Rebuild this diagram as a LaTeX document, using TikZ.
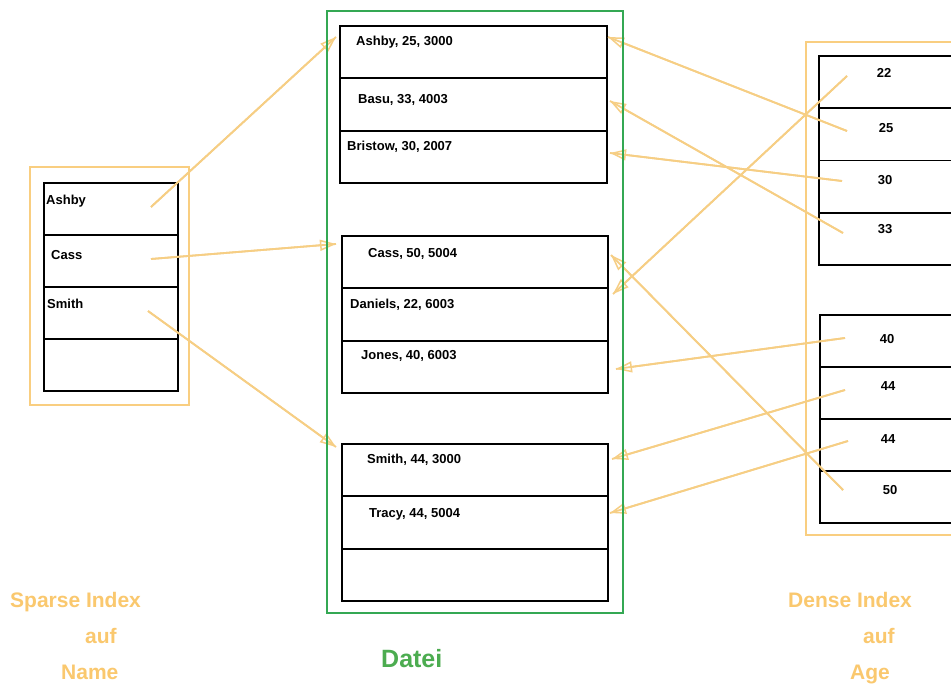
\documentclass[tikz,border=0pt]{standalone}
\usepackage{fontspec}
\setmainfont{Liberation Sans}
\usetikzlibrary{arrows.meta}
\definecolor{idxorange}{RGB}{249,206,128}
\definecolor{arrorange}{RGB}{246,206,132}
\definecolor{labelorange}{RGB}{250,200,110}
\definecolor{filegreen}{RGB}{52,168,83}
\definecolor{dateigreen}{RGB}{76,172,80}
\tikzset{
  cell/.style={draw=black, line width=1.8pt, inner sep=0pt},
  frame/.style={draw, line width=1.6pt, inner sep=0pt},
  celltext/.style={anchor=base west, inner sep=0pt, font=\fontsize{13}{15}\selectfont\bfseries},
  numtext/.style={anchor=base, inner sep=0pt, font=\fontsize{13}{15}\selectfont\bfseries},
  bigtext/.style={anchor=base west, inner sep=0pt, text=labelorange, font=\fontsize{21}{24}\selectfont\bfseries},
  ptr/.style={draw=arrorange, line width=1.8pt,
    -{Triangle[open, length=16pt, width=11pt, line width=1.5pt]},
    postaction={draw=arrorange, line width=1.8pt, -}}
}
\begin{document}
\begin{tikzpicture}[x=1pt, y=-1pt]
\useasboundingbox (0,0) rectangle (951,684);
\clip (0,0) rectangle (951,684);
\fill[white] (0,0) rectangle (951,684);

% ---------- Sparse index (left) ----------
\node[frame, draw=idxorange, minimum width=159pt, minimum height=238pt] (sparse) at (109.5,286) {};
\node[cell, minimum width=134pt, minimum height=52pt] (s1) at (111,209) {};
\node[cell, minimum width=134pt, minimum height=52pt] (s2) at (111,261) {};
\node[cell, minimum width=134pt, minimum height=52pt] (s3) at (111,313) {};
\node[cell, minimum width=134pt, minimum height=52pt] (s4) at (111,365) {};
\node[celltext] (ts1) at (46,204.5) {Ashby};
\node[celltext] (ts2) at (51,259.5) {Cass};
\node[celltext] (ts3) at (47,308.5) {Smith};

% ---------- Datei (middle) cells ----------
\node[cell, minimum width=267pt, minimum height=52.33pt] (f1) at (473.5,52.17) {};
\node[cell, minimum width=267pt, minimum height=52.33pt] (f2) at (473.5,104.5) {};
\node[cell, minimum width=267pt, minimum height=52.33pt] (f3) at (473.5,156.83) {};
\node[cell, minimum width=266pt, minimum height=52.33pt] (f4) at (475,262.17) {};
\node[cell, minimum width=266pt, minimum height=52.33pt] (f5) at (475,314.5) {};
\node[cell, minimum width=266pt, minimum height=52.33pt] (f6) at (475,366.83) {};
\node[cell, minimum width=266pt, minimum height=52.33pt] (f7) at (475,470.17) {};
\node[cell, minimum width=266pt, minimum height=52.33pt] (f8) at (475,522.5) {};
\node[cell, minimum width=266pt, minimum height=52.33pt] (f9) at (475,574.83) {};
\node[celltext] (tf1) at (356,45.5) {Ashby, 25, 3000};
\node[celltext] (tf2) at (358,103.5) {Basu, 33, 4003};
\node[celltext] (tf3) at (347,150.5) {Bristow, 30, 2007};
\node[celltext] (tf4) at (368,257.5) {Cass, 50, 5004};
\node[celltext] (tf5) at (350,308.5) {Daniels, 22, 6003};
\node[celltext] (tf6) at (361,359.5) {Jones, 40, 6003};
\node[celltext] (tf7) at (367,463.5) {Smith, 44, 3000};
\node[celltext] (tf8) at (369,517.5) {Tracy, 44, 5004};

% ---------- Dense index (right) ----------
\node[frame, draw=idxorange, minimum width=194pt, minimum height=493pt] (dense) at (903,288.5) {};
\node[cell, minimum width=181pt, minimum height=52.25pt] (d1) at (909.5,82.12) {};
\node[cell, minimum width=181pt, minimum height=52.25pt] (d2) at (909.5,134.37) {};
\node[cell, minimum width=181pt, minimum height=52.25pt] (d3) at (909.5,186.62) {};
\node[cell, minimum width=181pt, minimum height=52.25pt] (d4) at (909.5,238.87) {};
\node[cell, minimum width=180pt, minimum height=52pt] (d5) at (910,341) {};
\node[cell, minimum width=180pt, minimum height=52pt] (d6) at (910,393) {};
\node[cell, minimum width=180pt, minimum height=52pt] (d7) at (910,445) {};
\node[cell, minimum width=180pt, minimum height=52pt] (d8) at (910,497) {};
\node[numtext] (td1) at (884,77.5) {22};
\node[numtext] (td2) at (886,132.5) {25};
\node[numtext] (td3) at (885,184.5) {30};
\node[numtext] (td4) at (885,233.5) {33};
\node[numtext] (td5) at (887,343.5) {40};
\node[numtext] (td6) at (888,390.5) {44};
\node[numtext] (td7) at (888,443.5) {44};
\node[numtext] (td8) at (890,494.5) {50};

% ---------- labels ----------
\node[bigtext] (lsp) at (10,607) {Sparse Index};
\node[bigtext] (lsa) at (85,643) {auf};
\node[bigtext] (lsn) at (61,679) {Name};
\node[bigtext] (ldi) at (788,607) {Dense Index};
\node[bigtext] (lda) at (863,643) {auf};
\node[bigtext] (ldg) at (850,679) {Age};
\node[anchor=base west, inner sep=0pt, text=dateigreen, font=\fontsize{25}{28}\selectfont\bfseries] (ldatei) at (381,667) {Datei};

% ---------- pointer coordinates ----------
\coordinate (ps1) at (151,207);
\coordinate (ps2) at (151,259);
\coordinate (ps3) at (148,311);
\coordinate (pf1l) at (336,37);
\coordinate (pf4l) at (336,244);
\coordinate (pf7l) at (336,447);
\coordinate (pd1) at (847,76);
\coordinate (pd2) at (847,131);
\coordinate (pd3) at (842,181);
\coordinate (pd4) at (843,233);
\coordinate (pd5) at (845,338);
\coordinate (pd6) at (845,390);
\coordinate (pd7) at (848,441);
\coordinate (pd8) at (843,490);
\coordinate (pf1r) at (608,37);
\coordinate (pf2r) at (610,101);
\coordinate (pf3r) at (610,153);
\coordinate (pf4r) at (611,255);
\coordinate (pf5r) at (613,294);
\coordinate (pf6r) at (616,369);
\coordinate (pf7r) at (612,459);
\coordinate (pf8r) at (610,513);

% ---------- pointers ----------
\draw[ptr] (ps1) -- (pf1l);
\draw[ptr] (ps2) -- (pf4l);
\draw[ptr] (ps3) -- (pf7l);
\draw[ptr] (pd2) -- (pf1r);
\draw[ptr] (pd4) -- (pf2r);
\draw[ptr] (pd3) -- (pf3r);
\draw[ptr] (pd8) -- (pf4r);
\draw[ptr] (pd1) -- (pf5r);
\draw[ptr] (pd5) -- (pf6r);
\draw[ptr] (pd6) -- (pf7r);
\draw[ptr] (pd7) -- (pf8r);

% ---------- Datei frame (on top of pointers) ----------
\node[frame, draw=filegreen, minimum width=296pt, minimum height=602pt] (file) at (475,312) {};
\end{tikzpicture}
\end{document}
